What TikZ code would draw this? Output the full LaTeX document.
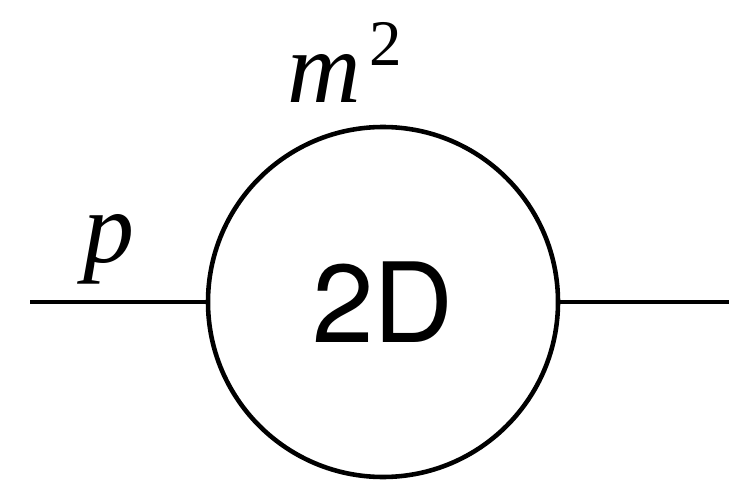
\documentclass[tikz,border=0pt]{standalone}
\usepackage{fontspec}
\setsansfont{TeX Gyre Heros}
\newfontfamily\tmsfont{Liberation Serif}
\usetikzlibrary{positioning}

\tikzset{
  leglabel/.style={anchor=base west, inner sep=0pt,
    font=\tmsfont\itshape\fontsize{58}{60}\selectfont}
}

\begin{document}
\begin{tikzpicture}[line width=2.6pt]
  \useasboundingbox (0,0) rectangle (14.58,9.58);

  % ---- bubble with external legs ----
  \node[draw, circle, minimum size=7cm, inner sep=0pt,
        font=\sffamily\fontsize{63}{66}\selectfont] (bubble) at (7.66,3.54) {2D};
  \coordinate (legin) at (0.6,3.54);
  \coordinate (legout) at (14.58,3.54);
  \draw (legin) -- (bubble.west);
  \draw (bubble.east) -- (legout);

  % ---- labels ----
  \node[leglabel] (mom) at (1.62,4.34) {p};
  \node[leglabel] (mass) at (5.7,7.52)
    {m\kern0.08em\raisebox{0.37em}{\upshape\fontsize{37}{38}\selectfont 2}};
\end{tikzpicture}
\end{document}
